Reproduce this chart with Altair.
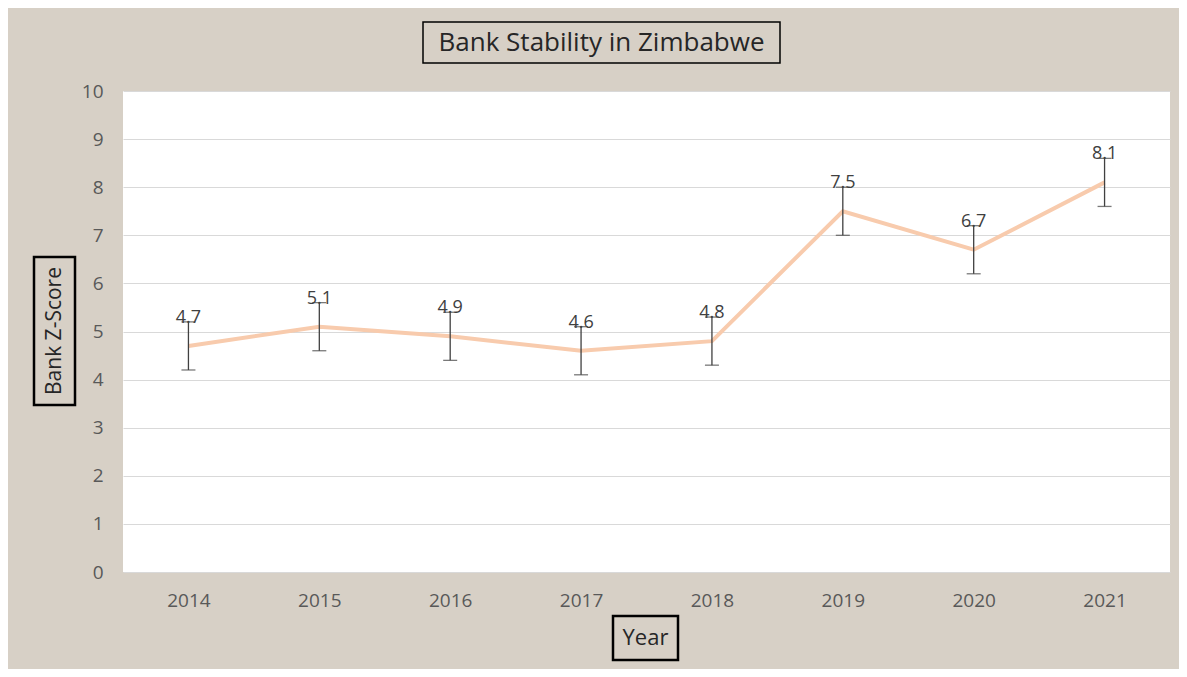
import altair as alt
import pandas as pd

years = ["2014", "2015", "2016", "2017", "2018", "2019", "2020", "2021"]
z_score = [4.7, 5.1, 4.9, 4.6, 4.8, 7.5, 6.7, 8.1]
error = [0.5, 0.5, 0.5, 0.5, 0.5, 0.5, 0.5, 0.5]
y_ticks = [0, 1, 2, 3, 4, 5, 6, 7, 8, 9, 10]

title_text = "Bank Stability in Zimbabwe"
y_title = "Bank Z-Score"
x_title = "Year"

df = pd.DataFrame({
    "year": years,
    "z": z_score,
    "lo": [v - e for v, e in zip(z_score, error)],
    "hi": [v + e for v, e in zip(z_score, error)],
})

FONT = "Open Sans"
W, H = 1047, 481

x_enc = alt.X(
    "year:O",
    sort=years,
    scale=alt.Scale(type="point", padding=0.5),
    axis=alt.Axis(title=None, labelAngle=0, ticks=False, domain=False, grid=False,
                  labelPadding=19, labelFontSize=19, labelColor="#595959", labelFont=FONT),
)
y_scale = alt.Scale(domain=[0, 10], nice=False)

base = alt.Chart(df).encode(x=x_enc)

line = base.mark_line(color="#f8cbad", strokeWidth=4).encode(
    y=alt.Y("z:Q", scale=y_scale,
            axis=alt.Axis(title=None, values=y_ticks, ticks=False, domain=False,
                          gridColor="#d9d9d9", gridWidth=1, labelPadding=20,
                          labelFontSize=19, labelColor="#595959", labelFont=FONT))
)
rule = base.mark_rule(color="#404040", strokeWidth=1.3).encode(y=alt.Y("lo:Q", scale=y_scale), y2="hi:Q")
cap_lo = base.mark_tick(color="#404040", thickness=1.3, size=14, orient="horizontal").encode(y=alt.Y("lo:Q", scale=y_scale))
cap_hi = base.mark_tick(color="#404040", thickness=1.3, size=14, orient="horizontal").encode(y=alt.Y("hi:Q", scale=y_scale))
labels = base.mark_text(baseline="bottom", dy=5, fontSize=18, color="#404040", font=FONT).encode(
    y=alt.Y("hi:Q", scale=y_scale), text=alt.Text("z:Q", format=".1f"))

# decorative boxed titles
tdf = pd.DataFrame({"t": [title_text]})
title_box = alt.Chart(tdf).mark_rect(fill="transparent", stroke="#000000", strokeWidth=1.5).encode(
    x=alt.value(300), x2=alt.value(657), y=alt.value(-69), y2=alt.value(-28))
title_mark = alt.Chart(tdf).mark_text(fontSize=26, color="#262626", font=FONT, baseline="middle", align="center").encode(
    x=alt.value(478.5), y=alt.value(-48), text="t:N")

ydf = pd.DataFrame({"t": [y_title]})
y_box = alt.Chart(ydf).mark_rect(fill="transparent", stroke="#000000", strokeWidth=2.5).encode(
    x=alt.value(-89), x2=alt.value(-48), y=alt.value(166), y2=alt.value(314))
y_mark = alt.Chart(ydf).mark_text(fontSize=21, color="#262626", font=FONT, angle=270, baseline="middle", align="center").encode(
    x=alt.value(-68), y=alt.value(240), text="t:N")

xdf = pd.DataFrame({"t": [x_title]})
x_box = alt.Chart(xdf).mark_rect(fill="transparent", stroke="#000000", strokeWidth=2.5).encode(
    x=alt.value(490), x2=alt.value(555), y=alt.value(525), y2=alt.value(569))
x_mark = alt.Chart(xdf).mark_text(fontSize=22, color="#262626", font=FONT, baseline="middle", align="center").encode(
    x=alt.value(522.5), y=alt.value(547), text="t:N")

chart = alt.layer(
    line, rule, cap_lo, cap_hi, labels,
    title_box, title_mark, y_box, y_mark, x_box, x_mark,
).properties(
    width=W, height=H,
    autosize=alt.AutoSizeParams(type="none"),
    padding={"left": 115, "top": 83, "right": 9, "bottom": 97},
    background="#d7d0c6",
).configure_view(fill="#ffffff", stroke=None)

chart.save("out.html", embed_options={"renderer": "svg", "actions": False})
